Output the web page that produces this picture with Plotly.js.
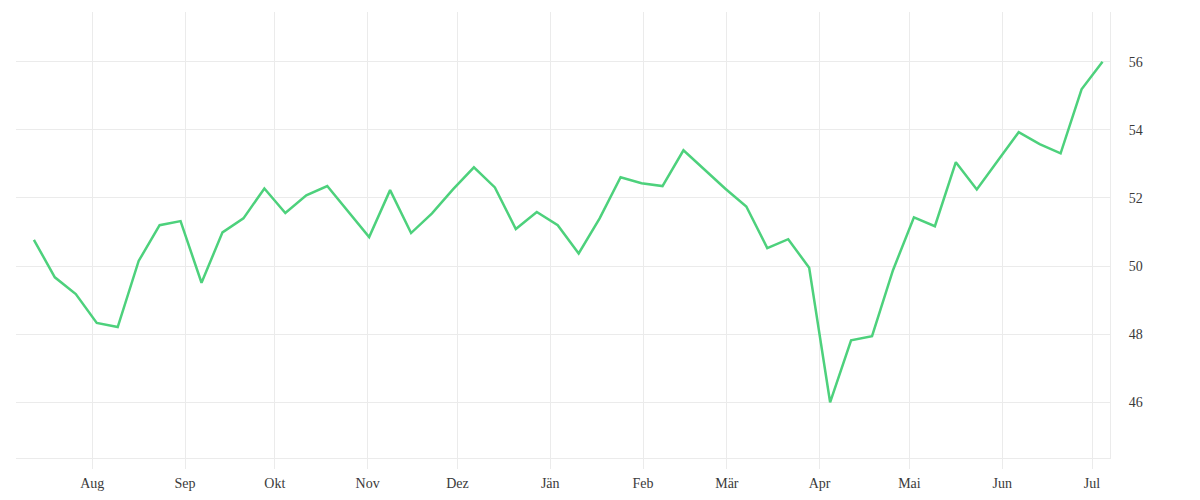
<!DOCTYPE html>
<html>
<head>
<meta charset="utf-8">
<script src="https://cdn.plot.ly/plotly-3.0.1.min.js"></script>
<style>
  html, body { margin: 0; padding: 0; background: #fff; }
  #chart { width: 1200px; height: 500px; }
</style>
</head>
<body>
<div id="chart"></div>
<script>
// Weekly readings, mid-July to early July of the next year
var weeks = [
  '2018-07-12 12:00', '2018-07-19 12:00', '2018-07-26 12:00', '2018-08-02 12:00',
  '2018-08-09 12:00', '2018-08-16 12:00', '2018-08-23 12:00', '2018-08-30 12:00',
  '2018-09-06 12:00', '2018-09-13 12:00', '2018-09-20 12:00', '2018-09-27 12:00',
  '2018-10-04 12:00', '2018-10-11 12:00', '2018-10-18 12:00', '2018-10-25 12:00',
  '2018-11-01 12:00', '2018-11-08 12:00', '2018-11-15 12:00', '2018-11-22 12:00',
  '2018-11-29 12:00', '2018-12-06 12:00', '2018-12-13 12:00', '2018-12-20 12:00',
  '2018-12-27 12:00', '2019-01-03 12:00', '2019-01-10 12:00', '2019-01-17 12:00',
  '2019-01-24 12:00', '2019-01-31 12:00', '2019-02-07 12:00', '2019-02-14 12:00',
  '2019-02-21 12:00', '2019-02-28 12:00', '2019-03-07 12:00', '2019-03-14 12:00',
  '2019-03-21 12:00', '2019-03-28 12:00', '2019-04-04 12:00', '2019-04-11 12:00',
  '2019-04-18 12:00', '2019-04-25 12:00', '2019-05-02 12:00', '2019-05-09 12:00',
  '2019-05-16 12:00', '2019-05-23 12:00', '2019-05-30 12:00', '2019-06-06 12:00',
  '2019-06-13 12:00', '2019-06-20 12:00', '2019-06-27 12:00', '2019-07-04 12:00'
];

var values = [
  50.77, 49.67, 49.18, 48.33, 48.21, 50.15, 51.20, 51.32,
  49.51, 50.99, 51.40, 52.28, 51.56, 52.08, 52.35, 51.60,
  50.85, 52.23, 50.97, 51.55, 52.25, 52.90, 52.31, 51.09,
  51.59, 51.20, 50.37, 51.40, 52.61, 52.43, 52.35, 53.40,
  52.84, 52.27, 51.75, 50.53, 50.79, 49.95, 46.00, 47.82,
  47.94, 49.88, 51.43, 51.17, 53.05, 52.25, 53.09, 53.93,
  53.58, 53.31, 55.19, 56.00
];

// Month ticks (Austrian German month names)
var month_ticks = [
  '2018-08-01', '2018-09-01', '2018-10-01', '2018-11-01', '2018-12-01', '2019-01-01',
  '2019-02-01', '2019-03-01', '2019-04-01', '2019-05-01', '2019-06-01', '2019-07-01'
];
var month_labels = [
  'Aug', 'Sep', 'Okt', 'Nov', 'Dez', 'Jän', 'Feb', 'Mär', 'Apr', 'Mai', 'Jun', 'Jul'
];

var y_ticks = [46, 48, 50, 52, 54, 56];

const grid_color = '#ebebeb';

var chart_data = [
  {
    x: weeks,
    y: values,
    type: 'scatter',
    mode: 'lines',
    line: {
      color: '#4dd17c',
      width: 2.5,
    },
    hoverinfo: 'x+y',
  },
];

var chart_layout = {
  width: 1200,
  height: 500,
  margin: { l: 16, r: 90, t: 12, b: 42 },
  paper_bgcolor: '#fff',
  plot_bgcolor: '#fff',
  showlegend: false,
  font: {
    family: '"Liberation Serif", "DejaVu Serif", serif',
    size: 14,
    color: '#3a3a3a',
  },
  xaxis: {
    type: 'date',
    range: ['2018-07-06 12:30', '2019-07-07 00:00'],
    tickvals: month_ticks,
    ticktext: month_labels,
    showgrid: true,
    gridcolor: grid_color,
    gridwidth: 1,
    showline: true,
    linecolor: grid_color,
    linewidth: 1,
    ticks: 'outside',
    ticklen: 10,
    tickcolor: grid_color,
    tickwidth: 1,
    ticklabelstandoff: 2,
    zeroline: false,
  },
  yaxis: {
    side: 'right',
    range: [44.365, 57.46],
    tickvals: y_ticks,
    showgrid: true,
    gridcolor: grid_color,
    gridwidth: 1,
    showline: true,
    linecolor: grid_color,
    linewidth: 1,
    ticks: '',
    ticklabelstandoff: 15,
    zeroline: false,
  },
};

Plotly.newPlot('chart', chart_data, chart_layout, { displayModeBar: false });
</script>
</body>
</html>
